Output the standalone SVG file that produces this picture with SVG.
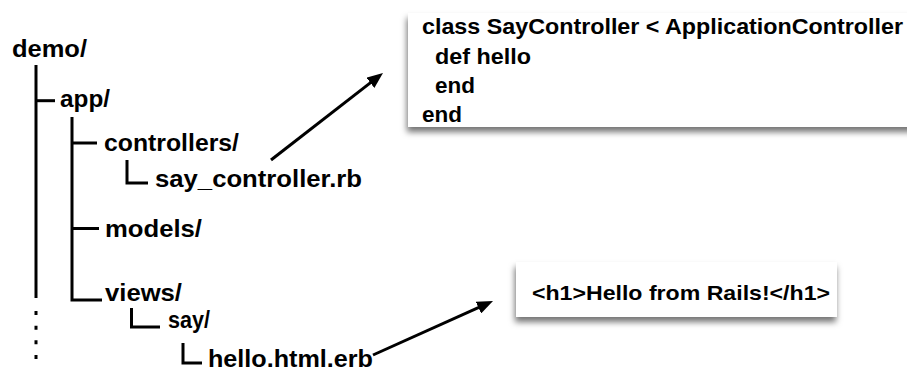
<svg xmlns="http://www.w3.org/2000/svg" width="907" height="372" viewBox="0 0 907 372">
<defs>
<filter id="shadow" x="-10%" y="-30%" width="120%" height="160%">
<feDropShadow dx="-1" dy="5" stdDeviation="3" flood-color="#000" flood-opacity="0.55"/>
</filter>
<marker id="arrow" markerUnits="userSpaceOnUse" markerWidth="16" markerHeight="13" refX="6" refY="6.5" orient="auto">
<path d="M0,0 L16,6.5 L0,13 z" fill="#000"/>
</marker>
</defs>
<style>
.t{font-family:"Liberation Sans",Arial,Helvetica,sans-serif;font-weight:bold;fill:#000;}
.tree{font-size:23.5px;}
.code{font-size:22px;}
.br{fill:none;stroke:#000;stroke-width:3;}
.conn{fill:none;stroke:#000;stroke-width:3;}
.box{fill:#fff;filter:url(#shadow);}
</style>
<rect width="907" height="372" fill="#fff"/>
<g id="tree-lines">
<path class="br" d="M36,65 V298"/>
<path class="br" d="M36,311 V359" stroke-dasharray="4 10.67"/>
<path class="br" d="M36,100.7 H55"/>
<path class="br" d="M72,117 V300 H102"/>
<path class="br" d="M72,143 H97"/>
<path class="br" d="M127,160 V183 H148"/>
<path class="br" d="M72,228.5 H99"/>
<path class="br" d="M131.5,308 V327 H160"/>
<path class="br" d="M183,343 V363 H202"/>
</g>
<g id="demo"><text class="t tree" x="12" y="57" textLength="75" lengthAdjust="spacingAndGlyphs">demo/</text></g>
<g id="app"><text class="t tree" x="60" y="107" textLength="50" lengthAdjust="spacingAndGlyphs">app/</text></g>
<g id="controllers"><text class="t tree" x="104" y="150.5" textLength="135" lengthAdjust="spacingAndGlyphs">controllers/</text></g>
<g id="say_controller"><text class="t tree" x="155" y="186.5" textLength="207" lengthAdjust="spacingAndGlyphs">say_controller.rb</text></g>
<g id="models"><text class="t tree" x="105" y="237" textLength="97" lengthAdjust="spacingAndGlyphs">models/</text></g>
<g id="views"><text class="t tree" x="105" y="300.5" textLength="77" lengthAdjust="spacingAndGlyphs">views/</text></g>
<g id="say"><text class="t tree" x="168" y="328" textLength="42" lengthAdjust="spacingAndGlyphs">say/</text></g>
<g id="hello"><text class="t tree" x="208" y="367" textLength="165" lengthAdjust="spacingAndGlyphs">hello.html.erb</text></g>
<g id="controller-code">
<rect class="box" x="408" y="13" width="520" height="114"/>
<text class="t code" x="422" y="34" textLength="481" lengthAdjust="spacingAndGlyphs">class SayController &lt; ApplicationController</text>
<text class="t code" x="435" y="64" textLength="96" lengthAdjust="spacingAndGlyphs">def hello</text>
<text class="t code" x="435" y="93" textLength="40" lengthAdjust="spacingAndGlyphs">end</text>
<text class="t code" x="422" y="122" textLength="40" lengthAdjust="spacingAndGlyphs">end</text>
</g>
<g id="view-code">
<rect class="box" x="516" y="262" width="321" height="55"/>
<text class="t" style="font-size:21px" x="532" y="300" textLength="298" lengthAdjust="spacingAndGlyphs">&lt;h1&gt;Hello from Rails!&lt;/h1&gt;</text>
</g>
<g id="connectors">
<path class="conn" d="M271,160 L375.1,79.1" marker-end="url(#arrow)"/>
<path class="conn" d="M373,355 L483.9,305.1" marker-end="url(#arrow)"/>
</g>
</svg>
